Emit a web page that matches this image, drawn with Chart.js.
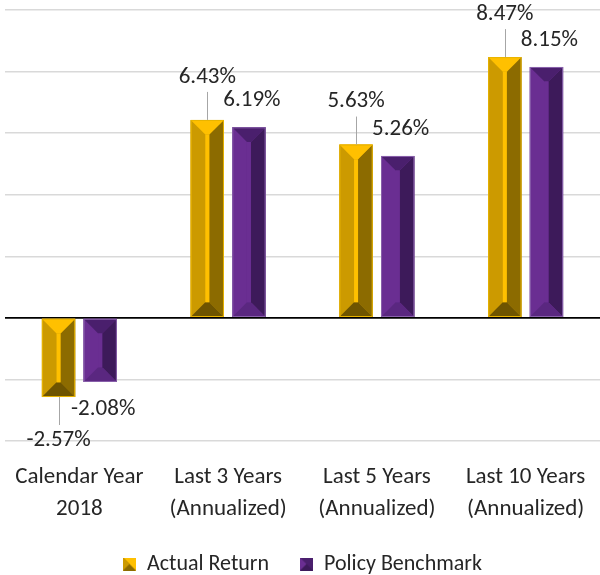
<!DOCTYPE html>
<html>
<head>
<meta charset="utf-8">
<script src="https://cdn.jsdelivr.net/npm/chart.js@4.4.1/dist/chart.umd.min.js"></script>
<style>
  html, body { margin: 0; padding: 0; background: #fff; }
  #wrap { width: 600px; height: 575px; position: relative; }
</style>
</head>
<body>
<div id="wrap"><canvas id="c"></canvas></div>
<script>
// ---- data ----
const categories = [
  ["Calendar Year", "2018"],
  ["Last 3 Years", "(Annualized)"],
  ["Last 5 Years", "(Annualized)"],
  ["Last 10 Years", "(Annualized)"]
];
const seriesNames = ["Actual Return", "Policy Benchmark"];
const actualReturn = [-2.57, 6.43, 5.63, 8.47];
const policyBenchmark = [-2.08, 6.19, 5.26, 8.15];
const yMin = -4, yMax = 10, yStep = 2;

// ---- styles ----
const FONT = "Carlito, Lato, 'Open Sans', sans-serif";
const gold = { top: '#FFC000', left: '#CC9A00', right: '#8C6B00', bottom: '#6E5400', inner: '#FFC000', edge: '#E8B400' };
const purple = { top: '#4A1F6D', left: '#6A2E92', right: '#3D1A5A', bottom: '#5A2780', inner: '#6A2E92', edge: '#8A62AC' };

function legendIcon(c) {
  const cv = document.createElement('canvas');
  cv.width = 13; cv.height = 13;
  const x = cv.getContext('2d');
  x.fillStyle = c.right; x.fillRect(0, 0, 13, 13);
  x.fillStyle = c.top;
  x.beginPath(); x.moveTo(0, 0); x.lineTo(13, 0); x.lineTo(13, 13); x.closePath(); x.fill();
  x.fillStyle = c.left;
  x.beginPath(); x.moveTo(0, 0); x.lineTo(6.5, 6.5); x.lineTo(0, 13); x.closePath(); x.fill();
  return cv;
}

function poly(ctx, pts, color) {
  ctx.fillStyle = color;
  ctx.beginPath();
  ctx.moveTo(pts[0][0], pts[0][1]);
  for (let i = 1; i < pts.length; i++) ctx.lineTo(pts[i][0], pts[i][1]);
  ctx.closePath();
  ctx.fill();
}

const bevelPlugin = {
  id: 'bevel',
  afterDatasetsDraw(chart) {
    const ctx = chart.ctx;
    chart.data.datasets.forEach((ds, di) => {
      const meta = chart.getDatasetMeta(di);
      const c = ds._colors;
      meta.data.forEach(bar => {
        const p = bar.getProps(['x', 'y', 'base', 'width'], true);
        const L = p.x - p.width / 2, R = p.x + p.width / 2;
        const T = Math.min(p.y, p.base), B = Math.max(p.y, p.base);
        const C = p.x, h = 2;
        let d = p.width / 2 - h;
        let iT = T + d, iB = B - d;
        if (iT > iB) { iT = iB = (T + B) / 2; }
        const iL = C - h, iR = C + h;
        ctx.save();
        poly(ctx, [[L, T], [L, B], [iL, iB], [iL, iT]], c.left);
        poly(ctx, [[R, T], [R, B], [iR, iB], [iR, iT]], c.right);
        poly(ctx, [[L, T], [R, T], [iR, iT], [iL, iT]], c.top);
        poly(ctx, [[L, B], [R, B], [iR, iB], [iL, iB]], c.bottom);
        poly(ctx, [[iL, iT], [iR, iT], [iR, iB], [iL, iB]], c.inner);
        ctx.strokeStyle = c.edge; ctx.lineWidth = 1;
        ctx.strokeRect(L + 0.5, T + 0.5, p.width - 1, B - T - 1);
        ctx.restore();
      });
    });
  }
};

const labelPlugin = {
  id: 'valueLabels',
  afterDraw(chart) {
    const ctx = chart.ctx;
    ctx.save();
    ctx.font = "23px " + FONT;
    ctx.fillStyle = '#262626';
    ctx.textAlign = 'center';
    ctx.textBaseline = 'middle';
    chart.data.datasets.forEach((ds, di) => {
      const meta = chart.getDatasetMeta(di);
      meta.data.forEach((bar, i) => {
        const v = ds.data[i];
        const p = bar.getProps(['x', 'y'], true);
        const dir = v >= 0 ? -1 : 1;
        const off = di === 0 ? 43 : 27;
        const ty = p.y + dir * off;
        if (di === 0) {
          ctx.strokeStyle = '#A6A6A6';
          ctx.lineWidth = 1;
          ctx.beginPath();
          ctx.moveTo(Math.round(p.x) + 0.5, ty - dir * 15);
          ctx.lineTo(Math.round(p.x) + 0.5, p.y);
          ctx.stroke();
        }
        ctx.fillText(v.toFixed(2) + '%', p.x + (di === 1 ? 3 : 0), ty);
      });
    });
    ctx.restore();
  }
};

new Chart(document.getElementById('c'), {
  type: 'bar',
  data: {
    labels: categories,
    datasets: [
      { label: seriesNames[0], data: actualReturn, backgroundColor: gold.left, _colors: gold, pointStyle: legendIcon(gold) },
      { label: seriesNames[1], data: policyBenchmark, backgroundColor: purple.left, _colors: purple, pointStyle: legendIcon(purple) }
    ]
  },
  options: {
    responsive: true,
    maintainAspectRatio: false,
    animation: false,
    layout: { padding: { top: 10, left: 5, right: 0, bottom: -10 } },
    datasets: { bar: { categoryPercentage: 0.56, barPercentage: 0.8, borderWidth: 0 } },
    scales: {
      x: {
        grid: { display: false },
        border: { display: false },
        ticks: { color: '#262626', font: { family: FONT, size: 23, lineHeight: 1.39 }, padding: 12, maxRotation: 0 },
        afterFit: s => { s.height += 12; }
      },
      y: {
        min: yMin, max: yMax,
        ticks: { display: false, stepSize: yStep },
        border: { display: false },
        grid: {
          drawTicks: false,
          color: c => c.tick && c.tick.value === 0 ? '#000000' : '#D9D9D9',
          lineWidth: c => c.tick && c.tick.value === 0 ? 1.8 : 1.5
        }
      }
    },
    plugins: {
      legend: {
        position: 'bottom',
        labels: {
          usePointStyle: true, boxWidth: 13, boxHeight: 13,
          color: '#262626', font: { family: FONT, size: 22, lineHeight: 1 }, padding: 4,
          generateLabels(chart) {
            const items = Chart.defaults.plugins.legend.labels.generateLabels(chart);
            items.forEach((it, i) => { if (i < items.length - 1) it.text = it.text + '\u2003 '; });
            return items;
          }
        }
      },
      tooltip: { enabled: false }
    }
  },
  plugins: [bevelPlugin, labelPlugin]
});
</script>
</body>
</html>
